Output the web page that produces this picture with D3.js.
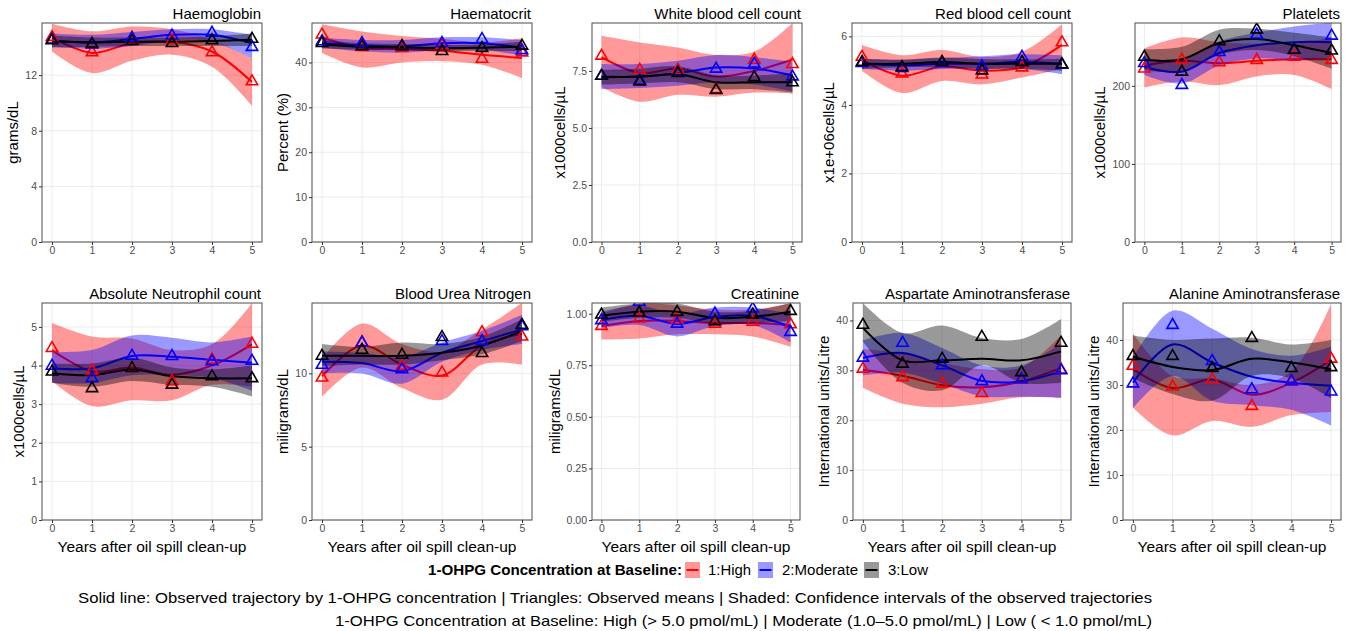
<!DOCTYPE html>
<html>
<head>
<meta charset="utf-8">
<script src="https://cdn.jsdelivr.net/npm/d3@7"></script>
<style>
body { margin: 0; background: #fff; }
text { font-family: "Liberation Sans", Arial, sans-serif; }
</style>
</head>
<body>
<svg id="chart" width="1354" height="631"></svg>
<script>
var width = 1354, height = 631;

// x values and groups
var years = [0, 1, 2, 3, 4, 5];
var groupLabels = ["1:High", "2:Moderate", "3:Low"];

// panel order: Hb, Hct, WBC, RBC, Plt, ANC, BUN, Creatinine, AST, ALT
var panelTitles = ["Haemoglobin", "Haematocrit", "White blood cell count", "Red blood cell count", "Platelets",
  "Absolute Neutrophil count", "Blood Urea Nitrogen", "Creatinine", "Aspartate Aminotransferase", "Alanine Aminotransferase"];
var yTitles = ["grams/dL", "Percent (%)", "x1000cells/\u00b5L", "x1e+06cells/\u00b5L", "x1000cells/\u00b5L",
  "x1000cells/\u00b5L", "miligrams/dL", "miligrams/dL", "International units/Litre", "International units/Litre"];
var yMax = [15.75, 48.8, 9.6, 6.39, 280.5, 5.62, 14.8, 1.052, 43.5, 48.2];
var yTicks = [[0, 4, 8, 12], [0, 10, 20, 30, 40], [0, 2.5, 5, 7.5], [0, 2, 4, 6], [0, 100, 200],
  [0, 1, 2, 3, 4, 5], [0, 5, 10], [0, 0.25, 0.5, 0.75, 1], [0, 10, 20, 30, 40], [0, 10, 20, 30, 40]];
var yTickFormat = ["d", "d", ".1f", "d", "d", "d", "d", ".2f", "d", "d"];

// observed means (triangles)
var meansHigh = [
  [14.74, 13.64, 14.5, 14.5, 13.64, 11.54],
  [46.2, 43.4, 43.2, 43.9, 40.8, 42.2],
  [8.16, 7.54, 7.54, 6.69, 7.98, 7.79],
  [5.40, 4.91, 5.22, 4.88, 5.09, 5.82],
  [222, 233, 230, 233, 237, 233],
  [4.45, 3.87, 3.93, 3.59, 4.15, 4.56],
  [9.7, 12.1, 10.5, 10.05, 12.8, 12.5],
  [0.94, 0.976, 0.97, 0.951, 0.96, 0.948],
  [30.3, 28.6, 27.3, 25.4, 28.1, 30.1],
  [34.2, 29.6, 31.2, 25.3, 30.7, 35.8]
];
var meansModerate = [
  [14.55, 14.19, 14.67, 14.84, 15.03, 14.02],
  [44.7, 44.3, 43.6, 44.3, 45.2, 42.7],
  [7.28, 7.07, 7.43, 7.59, 7.81, 7.25],
  [5.22, 5.07, 5.22, 5.12, 5.40, 5.17],
  [229, 201, 243, 265.5, 246, 264],
  [3.99, 3.67, 4.25, 4.24, 4.11, 4.12],
  [10.57, 12.1, 10.27, 12.2, 12.2, 13.2],
  [0.968, 1.057, 0.951, 1.0, 1.024, 0.911],
  [32.5, 35.5, 31.0, 27.8, 28.2, 30.0],
  [30.3, 43.3, 35.3, 29.0, 30.8, 28.5]
];
var meansLow = [
  [14.5, 14.25, 14.45, 14.3, 14.5, 14.6],
  [44.3, 43.6, 43.6, 42.5, 43.2, 43.7],
  [7.28, 7.03, 7.4, 6.66, 7.22, 6.99],
  [5.25, 5.1, 5.25, 5.0, 5.25, 5.18],
  [237, 218, 257, 272, 246, 245],
  [3.84, 3.41, 3.93, 3.5, 3.72, 3.67],
  [11.19, 11.6, 11.26, 12.47, 11.37, 13.3],
  [0.995, 1.005, 1.008, 0.963, 0.995, 1.013],
  [39.1, 31.3, 32.3, 36.7, 29.6, 35.5],
  [36.4, 36.4, 33.7, 40.4, 33.7, 33.9]
];

// observed trajectories (solid lines)
var lineHigh = [
  [14.7, 13.6, 14.3, 14.4, 13.7, 11.5],
  [45.5, 43.3, 43.0, 42.6, 41.7, 41.0],
  [8.1, 7.4, 7.6, 7.25, 7.5, 8.0],
  [5.3, 4.85, 5.12, 5.0, 5.1, 5.75],
  [226, 232, 229, 232, 234, 234],
  [4.4, 3.85, 3.95, 3.76, 4.0, 4.55],
  [9.8, 11.9, 10.6, 9.85, 11.9, 12.7],
  [0.94, 0.965, 0.965, 0.955, 0.955, 0.945],
  [30.1, 28.9, 27.0, 26.6, 27.8, 30.5],
  [33.5, 29.3, 31.2, 27.8, 30.5, 35.5]
];
var lineModerate = [
  [14.5, 14.35, 14.6, 14.9, 14.9, 14.3],
  [44.3, 43.8, 43.6, 44.3, 44.3, 43.3],
  [7.25, 7.25, 7.4, 7.65, 7.6, 7.3],
  [5.2, 5.15, 5.2, 5.2, 5.25, 5.2],
  [224, 218, 242, 252, 256, 256],
  [3.93, 3.93, 4.25, 4.23, 4.15, 4.07],
  [10.8, 10.7, 10.15, 11.4, 12.2, 13.0],
  [0.97, 0.99, 0.95, 0.985, 0.99, 0.935],
  [32.5, 33.5, 31.0, 27.9, 27.8, 29.8],
  [30.5, 39.0, 35.0, 31.8, 30.5, 29.8]
];
var lineLow = [
  [14.45, 14.35, 14.4, 14.4, 14.45, 14.55],
  [44.0, 43.5, 43.4, 43.2, 43.3, 43.5],
  [7.22, 7.25, 7.35, 7.0, 7.0, 7.0],
  [5.2, 5.2, 5.25, 5.2, 5.2, 5.2],
  [233, 234, 255, 260, 252, 242],
  [3.8, 3.75, 3.9, 3.72, 3.67, 3.67],
  [11.2, 11.2, 11.2, 11.4, 11.9, 12.9],
  [0.99, 1.01, 1.01, 0.98, 0.985, 1.01],
  [38.5, 32.0, 32.0, 32.3, 32.0, 33.8],
  [36.3, 34.0, 33.3, 35.8, 35.0, 33.5]
];

// confidence interval bounds (shaded)
var lowerHigh = [
  [13.7, 12.15, 13.03, 13.47, 12.6, 9.79],
  [42.1, 38.9, 40.0, 40.3, 39.5, 36.5],
  [6.8, 6.15, 6.45, 6.37, 6.55, 6.5],
  [5.0, 4.35, 4.7, 4.6, 4.8, 5.05],
  [198, 206, 201, 212, 214, 196],
  [3.6, 2.95, 3.1, 3.1, 3.5, 3.45],
  [8.4, 10.4, 9.0, 8.2, 10.6, 10.6],
  [0.875, 0.88, 0.9, 0.9, 0.89, 0.84],
  [26.5, 23.3, 22.6, 23.3, 24.6, 24.5],
  [25, 18.8, 22, 20.7, 23.3, 24]
];
var upperHigh = [
  [15.7, 15.15, 15.5, 15.3, 14.55, 13.2],
  [48.5, 46.9, 45.9, 45.3, 44.5, 45.4],
  [9.04, 8.75, 8.53, 8.2, 8.35, 9.6],
  [5.75, 5.45, 5.6, 5.4, 5.55, 6.35],
  [248, 262, 256, 254, 254, 262],
  [5.1, 4.75, 4.7, 4.4, 4.55, 5.62],
  [11.0, 13.4, 12.0, 11.5, 13.0, 14.8],
  [1.0, 1.05, 1.04, 1.02, 1.02, 1.05],
  [34.3, 33.4, 31.5, 30.2, 30.6, 37],
  [41.5, 32, 31.5, 30, 33, 48]
];
var lowerModerate = [
  [14.0, 13.9, 14.1, 14.5, 14.4, 13.2],
  [43.3, 42.5, 42.2, 42.8, 42.8, 41.5],
  [6.7, 6.75, 6.85, 7.0, 6.9, 6.6],
  [5.05, 5.0, 5.05, 5.05, 5.05, 4.9],
  [214, 203, 226, 235, 233, 236],
  [3.55, 3.55, 3.75, 3.75, 3.68, 3.35],
  [10.0, 10.0, 9.3, 10.8, 11.6, 12.0],
  [0.93, 0.945, 0.89, 0.94, 0.945, 0.86],
  [29, 29.5, 27.3, 24.8, 24.7, 24.5],
  [24.8, 32, 26.5, 25.5, 24.5, 21]
];
var upperModerate = [
  [15.0, 14.9, 15.1, 15.3, 15.3, 14.9],
  [45.5, 45.0, 45.0, 45.6, 45.6, 45.0],
  [7.8, 7.8, 7.95, 8.2, 8.1, 7.9],
  [5.35, 5.32, 5.37, 5.42, 5.48, 5.45],
  [236, 233, 257, 268, 276, 281],
  [4.35, 4.4, 4.78, 4.72, 4.6, 4.75],
  [11.5, 11.4, 11.1, 12.1, 12.9, 14.0],
  [1.01, 1.04, 1.0, 1.03, 1.03, 1.0],
  [36, 37.5, 34.5, 31.0, 31.0, 35.5],
  [36, 46.5, 42.5, 38, 36.5, 38.5]
];
var lowerLow = [
  [14.0, 14.05, 14.1, 14.1, 14.1, 14.1],
  [43.1, 42.8, 42.8, 42.5, 42.6, 42.5],
  [6.9, 6.95, 7.0, 6.7, 6.7, 6.55],
  [5.05, 5.1, 5.1, 5.05, 5.05, 5.0],
  [220, 218, 240, 246, 238, 222],
  [3.55, 3.45, 3.6, 3.5, 3.45, 3.2],
  [10.5, 10.6, 10.6, 10.9, 11.3, 12.2],
  [0.96, 0.98, 0.98, 0.95, 0.955, 0.965],
  [35.8, 27.5, 26.0, 31, 27.5, 27.5],
  [31.5, 28, 26.5, 32, 31.5, 27]
];
var upperLow = [
  [14.85, 14.7, 14.7, 14.7, 14.8, 15.0],
  [44.9, 44.3, 44.1, 43.9, 44.0, 44.6],
  [7.55, 7.6, 7.7, 7.3, 7.3, 7.4],
  [5.35, 5.32, 5.38, 5.33, 5.33, 5.35],
  [247, 250, 272, 273, 268, 262],
  [4.05, 4.05, 4.2, 3.95, 3.9, 4.0],
  [12.0, 11.8, 12.1, 12.0, 12.5, 13.7],
  [1.03, 1.05, 1.05, 1.01, 1.015, 1.052],
  [43.5, 37.5, 39, 36.5, 36.3, 40.3],
  [41, 40, 40.3, 40.5, 39, 40]
];

var footLine1 = "Solid line: Observed trajectory by 1-OHPG concentration | Triangles: Observed means | Shaded: Confidence intervals of the observed trajectories";
var footLine2 = "1-OHPG Concentration at Baseline: High (> 5.0 pmol/mL) | Moderate (1.0\u20135.0 pmol/mL) | Low ( < 1.0 pmol/mL)";
var legendTitle = "1-OHPG Concentration at Baseline:";

var groups = [
  {mean: meansHigh, line: lineHigh, lo: lowerHigh, hi: upperHigh, color: "#ff0000"},
  {mean: meansModerate, line: lineModerate, lo: lowerModerate, hi: upperModerate, color: "#0000ff"},
  {mean: meansLow, line: lineLow, lo: lowerLow, hi: upperLow, color: "#000000"}
];

// panel layout
var panelLeft = [42, 312, 592, 852, 1135, 42, 312, 592, 853, 1123];
var panelRight = [262, 532, 802, 1072, 1341, 262, 532, 800, 1071, 1341];
var rowTop = [23, 303], rowBottom = [242, 520];

var svg = d3.select("#chart");
svg.append("rect").attr("width", width).attr("height", height).attr("fill", "#fff");

var curve = d3.curveCatmullRom.alpha(0.5);
var triangle = d3.symbol().type(d3.symbolTriangle).size(56);

panelTitles.forEach(function(title, i) {
  var row = Math.floor(i / 5);
  var L = panelLeft[i], R = panelRight[i], T = rowTop[row], B = rowBottom[row];

  var x = d3.scaleLinear().domain([-0.25, 5.25]).range([L, R]);
  var y = d3.scaleLinear().domain([0, yMax[i]]).range([B, T]);

  var g = svg.append("g").attr("class", "panel");

  g.append("clipPath").attr("id", "clip" + i)
    .append("rect").attr("x", L).attr("y", T).attr("width", R - L).attr("height", B - T);

  // grid
  g.append("g").selectAll("line").data(yTicks[i]).enter().append("line")
    .attr("x1", L).attr("x2", R).attr("y1", function(d) { return y(d); }).attr("y2", function(d) { return y(d); })
    .attr("stroke", "#ebebeb").attr("stroke-width", 1);
  g.append("g").selectAll("line").data(years).enter().append("line")
    .attr("y1", T).attr("y2", B).attr("x1", function(d) { return x(d); }).attr("x2", function(d) { return x(d); })
    .attr("stroke", "#ebebeb").attr("stroke-width", 1);

  var plot = g.append("g").attr("clip-path", "url(#clip" + i + ")");

  // ribbon then line for each group, like geom_smooth
  groups.forEach(function(gr) {
    var pts = years.map(function(yr, k) {
      return {x: yr, m: gr.line[i][k], lo: gr.lo[i][k], hi: gr.hi[i][k]};
    });
    plot.append("path").datum(pts)
      .attr("d", d3.area().curve(curve)
        .x(function(d) { return x(d.x); })
        .y0(function(d) { return y(d.lo); })
        .y1(function(d) { return y(d.hi); }))
      .attr("fill", gr.color).attr("fill-opacity", 0.4);
    plot.append("path").datum(pts)
      .attr("d", d3.line().curve(curve)
        .x(function(d) { return x(d.x); })
        .y(function(d) { return y(d.m); }))
      .attr("fill", "none").attr("stroke", gr.color).attr("stroke-width", 2);
  });

  groups.forEach(function(gr) {
    plot.append("g").selectAll("path").data(gr.mean[i]).enter().append("path")
      .attr("d", triangle)
      .attr("transform", function(d, k) { return "translate(" + x(years[k]) + "," + y(d) + ")"; })
      .attr("fill", "none").attr("stroke", gr.color).attr("stroke-width", 1.6);
  });

  // border
  g.append("rect").attr("x", L).attr("y", T).attr("width", R - L).attr("height", B - T)
    .attr("fill", "none").attr("stroke", "#4d4d4d").attr("stroke-width", 1);

  // axes
  var ya = g.append("g").attr("transform", "translate(" + L + ",0)")
    .call(d3.axisLeft(y).tickValues(yTicks[i]).tickFormat(d3.format(yTickFormat[i])).tickSize(3).tickPadding(2));
  var xa = g.append("g").attr("transform", "translate(0," + B + ")")
    .call(d3.axisBottom(x).tickValues(years).tickFormat(d3.format("d")).tickSize(3).tickPadding(2));
  [ya, xa].forEach(function(a) {
    a.select(".domain").remove();
    a.selectAll(".tick line").attr("stroke", "#333");
    a.selectAll(".tick text").attr("fill", "#4d4d4d").style("font-size", "10.5px")
      .style("font-family", "'Liberation Sans', Arial, sans-serif");
  });

  var labelW = d3.max(ya.selectAll(".tick text").nodes(), function(n) { return n.getComputedTextLength(); });

  g.append("text")
    .attr("transform", "translate(" + (L - labelW - 12) + "," + ((T + B) / 2) + ") rotate(-90)")
    .attr("text-anchor", "middle").style("font-size", "15px").attr("fill", "#000")
    .text(yTitles[i]);

  g.append("text").attr("x", R - 1).attr("y", T - 4)
    .attr("text-anchor", "end").style("font-size", "15px").attr("fill", "#000")
    .text(title);

  if (row === 1) {
    g.append("text").attr("x", (L + R) / 2).attr("y", B + 32)
      .attr("text-anchor", "middle").style("font-size", "15.5px").attr("fill", "#000")
      .text("Years after oil spill clean-up");
  }
});

// legend
var legendY = 570;
var leg = svg.append("g").attr("class", "legend");
leg.append("text").attr("x", 428).attr("y", legendY + 5)
  .attr("textLength", 254).attr("lengthAdjust", "spacingAndGlyphs")
  .style("font-size", "14px").style("font-weight", "bold").text(legendTitle);

var keyX = [685, 758, 864], labelX = [708, 782, 888], labelLen = [43, 76, 40];
groups.forEach(function(gr, k) {
  leg.append("rect").attr("x", keyX[k]).attr("y", legendY - 8).attr("width", 15).attr("height", 16)
    .attr("fill", gr.color).attr("fill-opacity", 0.4);
  leg.append("line").attr("x1", keyX[k] + 1.5).attr("x2", keyX[k] + 13.5)
    .attr("y1", legendY).attr("y2", legendY)
    .attr("stroke", gr.color).attr("stroke-width", 2);
  leg.append("text").attr("x", labelX[k]).attr("y", legendY + 5)
    .attr("textLength", labelLen[k]).attr("lengthAdjust", "spacingAndGlyphs")
    .style("font-size", "14px").text(groupLabels[k]);
});

// caption
svg.append("text").attr("x", 78).attr("y", 603)
  .attr("textLength", 1074).attr("lengthAdjust", "spacingAndGlyphs")
  .style("font-size", "15px").text(footLine1);
svg.append("text").attr("x", 335).attr("y", 626)
  .attr("textLength", 817).attr("lengthAdjust", "spacingAndGlyphs")
  .style("font-size", "15px").text(footLine2);
</script>
</body>
</html>
